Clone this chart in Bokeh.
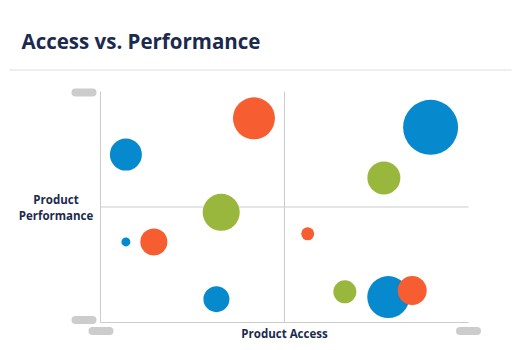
from bokeh.plotting import figure
from bokeh.models import Range1d, Label, BoxAnnotation, ColumnDataSource
from bokeh.embed import file_html
from bokeh.resources import INLINE

# ---- data ----
access = [41.7, 6.9, 32.8, 6.9, 14.5, 31.5, 89.7, 77.0, 56.3, 66.4, 78.2, 84.7]
performance = [88.4, 72.7, 47.7, 34.9, 34.9, 10.1, 84.5, 62.6, 38.4, 13.3, 11.0, 13.9]
volume = [42, 32, 37, 9, 27, 26, 55, 33, 13, 23, 42, 29]
group = ["orange", "blue", "green", "blue", "orange", "blue",
         "blue", "green", "orange", "green", "blue", "orange"]

title_text = "Access vs. Performance"
x_label = "Product Access"
y_label = ["Product", "Performance"]

palette = {"blue": "#0689cd", "orange": "#f65d30", "green": "#99b73c"}
NAVY = "#1b2a4e"
GREY = "#cccccc"
FONT = "Open Sans"

# ---- geometry (pixels of the plotting quadrant inside the 520x350 canvas) ----
W, H = 520, 350
FL, FR, FT, FB = 100, 468, 91, 322
X0, X1, Y0, Y1 = 0, 100, 0, 100
XM, YM = (X0 + X1) / 2, (Y0 + Y1) / 2
DESC = 0.28  # text descent (em) so that labels sit on their baselines

def sx(px):
    return X0 + (px - FL) / (FR - FL) * (X1 - X0)

def sy(py):
    return Y0 + (FB - py) / (FB - FT) * (Y1 - Y0)

p = figure(width=W, height=H, output_backend="svg", toolbar_location=None,
           x_range=Range1d(sx(0), sx(W)), y_range=Range1d(sy(H), sy(0)),
           x_axis_type=None, y_axis_type=None, min_border=0)
p.outline_line_color = None
p.grid.visible = False
p.background_fill_color = "white"
p.border_fill_color = "white"

# axis lines and quadrant dividers
p.segment(x0=[X0, X0, XM, X0], y0=[Y0, Y0, Y0, YM],
          x1=[X0, X1, XM, X1], y1=[Y1, Y0, Y1, YM],
          line_color=GREY, line_width=1)

# bubbles
src = ColumnDataSource(dict(x=access, y=performance, s=volume,
                            c=[palette[g] for g in group]))
p.scatter("x", "y", size="s", fill_color="c", line_color=None, source=src)

def text(px, baseline_py, t, size, align):
    p.add_layout(Label(x=sx(px), y=sy(baseline_py - DESC * size), text=t,
                       text_align=align, text_baseline="alphabetic",
                       text_font=FONT, text_font_style="bold",
                       text_font_size=f"{size}px", text_color=NAVY))

# title
text(21, 46.7, title_text, 20.5, "left")

# separator rule
p.add_layout(BoxAnnotation(left=sx(9), right=sx(511), top=sy(68.5), bottom=sy(70.5),
                           fill_color="#eeeeee", fill_alpha=1, line_color=None))

# axis titles
text((FL + FR) / 2, 336.7, x_label, 11.5, "center")
for i, t in enumerate(y_label):
    text(55.5, 202.7 + 15.6 * i, t, 11.5, "center")

# placeholder pills for the range-end tick labels
def pill(cx, cy):
    p.add_layout(BoxAnnotation(left=sx(cx - 12.5), right=sx(cx + 12.5),
                               top=sy(cy - 4), bottom=sy(cy + 4),
                               fill_color=GREY, fill_alpha=1, line_color=None,
                               border_radius=4))

pill(FL - 16.5, FT + 1)
pill(FL - 16.5, FB - 2.5)
pill(FL + 0.5, FB + 8.5)
pill(FR, FB + 8.5)

open("out.html", "w").write(file_html(p, INLINE))
